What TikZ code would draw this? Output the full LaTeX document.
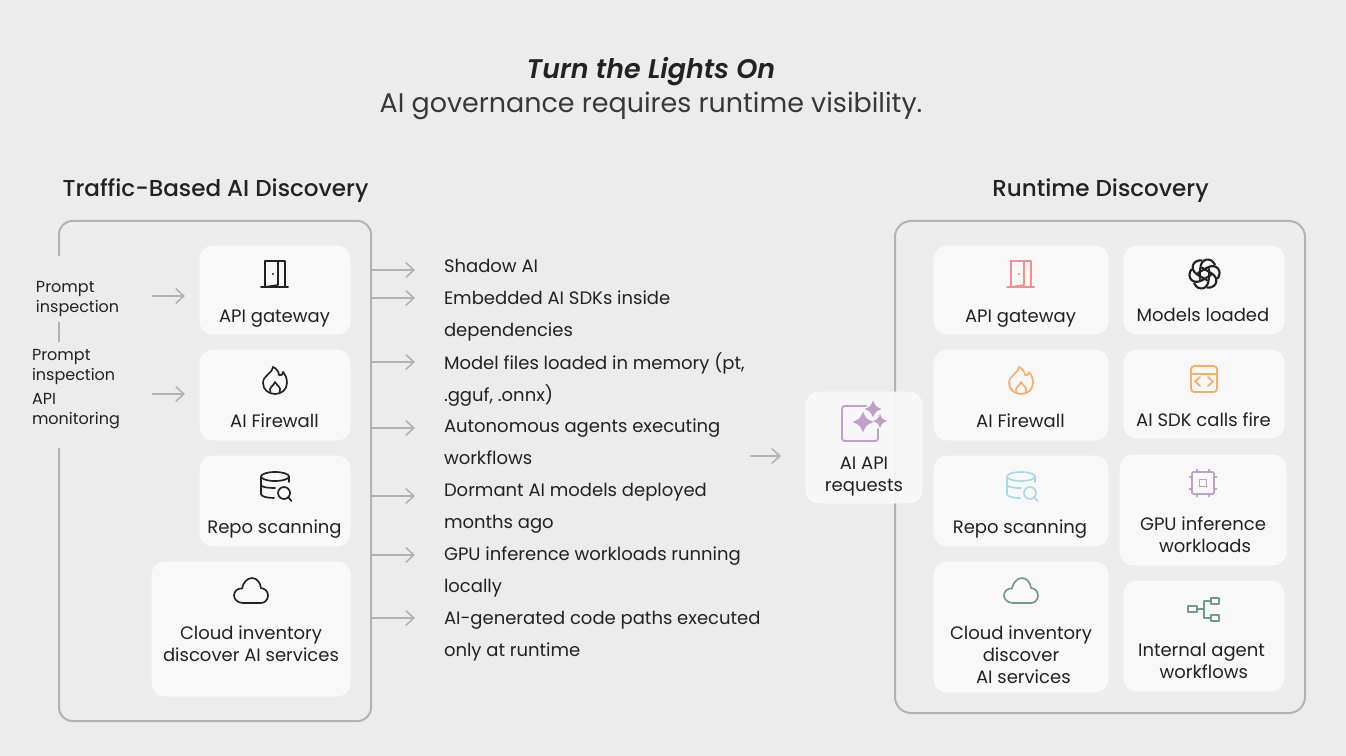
\documentclass[tikz,border=0pt]{standalone}
\usepackage{fontspec}
\setmainfont{Poppins}
\usetikzlibrary{arrows.meta}
\definecolor{bg}{HTML}{ECECEC}
\definecolor{ink}{HTML}{222222}
\definecolor{framec}{HTML}{B2B2B2}
\definecolor{cardc}{HTML}{F8F8F8}
\definecolor{cred}{HTML}{F58F8B}
\definecolor{corange}{HTML}{F6AE6C}
\definecolor{cblue}{HTML}{A5DCE4}
\definecolor{cpurple}{HTML}{C09FCB}
\definecolor{cgreen}{HTML}{6F9A8C}
\newfontface\medium{Poppins Medium}
\newfontface\medmit{Poppins SemiBold Italic}
\tikzset{
 every node/.style={inner sep=0pt,outer sep=0pt,text=ink},
 card/.style={fill=cardc,draw=white!60!cardc,line width=0.4pt,rounded corners=9.5},
 label/.style={font=\fontsize{13.5pt}{16.5pt}\selectfont,align=center,anchor=center},
 listt/.style={font=\fontsize{13.5pt}{16.5pt}\selectfont,anchor=west},
 side/.style={font=\fontsize{12pt}{15pt}\selectfont,anchor=west,align=left},
 head/.style={font=\fontsize{17.3pt}{22pt}\selectfont\medium,anchor=center},
 frame/.style={draw=framec,line width=1.5pt},
 arr/.style={draw=framec,line width=1.2pt,-{Straight Barb[length=6,width=11,line width=1.2pt]}},
 ico/.style={line width=1.25pt,line cap=round,line join=round},
}
% door icon
\newcommand{\icodoor}[3]{\begin{scope}[shift={(#1,#2)},ico,draw=#3]
 \draw[line width=1.5pt] (-14,13)--(13,13);
 \draw (-10,13)--(-10,-13)--(10,-13)--(10,13);
 \draw (3,-13)--(3,11)--(-10,13);
 \fill[#3] (-2,0) circle (1.1);
 \end{scope}}
% flame icon
\newcommand{\icofire}[3]{\begin{scope}[shift={(#1,#2)},ico,draw=#3]
 \draw (-2,-13) .. controls (-2,-7) and (-12,-5) .. (-12,3) .. controls (-12,10) and (-6,14) .. (0,14) .. controls (6,14) and (12,10) .. (12,3) .. controls (12,-2) and (10,-6) .. (8,-8) .. controls (7.5,-5) and (6,-4) .. (4,-5) .. controls (4,-8) and (1,-12) .. (-2,-13) -- cycle;
 \draw (-4.5,12.5) .. controls (-7,7) and (-1,6) .. (0,2) .. controls (2,6) and (7,7) .. (4.5,12.5);
 \end{scope}}
% database + search
\newcommand{\icorepo}[3]{\begin{scope}[shift={(#1,#2)},ico,draw=#3]
 \draw (0,-9.5) ellipse (14 and 4.5);
 \draw (-14,-9.5)--(-14,8) .. controls (-14,10.5) and (-8,12) .. (-1,12);
 \draw (-14,-1) .. controls (-14,1) and (-8,2) .. (0,2);
 \draw (14,-9.5)--(14,-4);
 \draw (9,7) circle (6);
 \draw (13.5,11.5)--(16.5,15);
 \end{scope}}
\newcommand{\icocloud}[3]{\begin{scope}[shift={(#1,#2)},ico,draw=#3]
 \draw (-8,12) .. controls (-13,12) and (-17,8.5) .. (-17,4.5) .. controls (-17,0) and (-13,-3) .. (-9,-2.5) .. controls (-8,-8) and (-4,-13) .. (1,-13) .. controls (6,-13) and (9.5,-8) .. (10,-3) .. controls (14,-2.5) and (17,0.5) .. (17,4.5) .. controls (17,8.5) and (14,12) .. (10,12) -- cycle;
 \end{scope}}
\newcommand{\icoai}[3]{\begin{scope}[shift={(#1,#2)},ico,draw=#3,line width=1.6pt,scale=1.04]
 \foreach \a in {0,60,...,300}{
  \begin{scope}[rotate=\a]
  \draw (-4,-5) .. controls (-4,-15) and (6,-17) .. (10,-9) ;
  \draw (-4,-5) -- (-4,5) ;
  \end{scope}}
 \end{scope}}
\newcommand{\icocode}[3]{\begin{scope}[shift={(#1,#2)},ico,draw=#3,line width=1.4pt]
 \draw[rounded corners=2.5] (-13,-5)--(-13,13)--(13,13)--(13,-5);
 \draw[rounded corners=2.5] (-13,-5)--(-13,-13)--(13,-13)--(13,-5);
 \draw (-13,-5)--(13,-5);
 \draw (-4,-2)--(-9,2.5)--(-4,7);
 \draw (4,-2)--(9,2.5)--(4,7);
 \end{scope}}
\newcommand{\icochip}[3]{\begin{scope}[shift={(#1,#2)},ico,draw=#3,line width=1.4pt]
 \draw[rounded corners=1] (-11,-11) rectangle (11,11);
 \draw (-3.5,-3.5) rectangle (3.5,3.5);
 \foreach \p in {-6,6}{
  \draw (\p,-13.5)--(\p,-11); \draw (\p,11)--(\p,13.5);
  \draw (-13.5,\p)--(-11,\p); \draw (11,\p)--(13.5,\p);}
 \end{scope}}
\newcommand{\icoflow}[3]{\begin{scope}[shift={(#1,#2)},ico,draw=#3,line width=1.4pt]
 \draw (-16,-3) rectangle (-7,3);
 \draw (7,-11) rectangle (15,-5);
 \draw (7,6) rectangle (15,12);
 \draw (-7,0)--(0,0);
 \draw (7,-8)--(0,-8)--(0,9)--(7,9);
 \end{scope}}
\newcommand{\icospark}[3]{\begin{scope}[shift={(#1,#2)},ico,draw=#3,line width=1.4pt]
 \draw[rounded corners=2] (6,-17)--(-18,-17)--(-18,18)--(18,18)--(18,6);
 \foreach \x/\y/\r in {3/-1/10.5,13/-14/8.5,20/-2/7}{
  \fill[#3] (\x-\r,\y) .. controls (\x-\r*0.3,\y-\r*0.3) .. (\x,\y-\r) .. controls (\x+\r*0.3,\y-\r*0.3) .. (\x+\r,\y) .. controls (\x+\r*0.3,\y+\r*0.3) .. (\x,\y+\r) .. controls (\x-\r*0.3,\y+\r*0.3) .. cycle;}
 \end{scope}}
\begin{document}
\begin{tikzpicture}[x=0.75pt,y=-0.75pt]
\useasboundingbox (0,0) rectangle (1346,756);
\fill[bg] (0,0) rectangle (1346,756);
% title
\node[font=\fontsize{20.2pt}{26pt}\selectfont\medmit,anchor=center] (title) at (651,71.5) {Turn the Lights On};
\node[font=\fontsize{20.2pt}{26pt}\selectfont,anchor=center,text=ink!90] (subtitle) at (651,105.5) {AI governance requires runtime visibility.};
\node[head] (h1) at (215.5,190.5) {Traffic-Based AI Discovery};
\node[head] (h2) at (1100.5,190.5) {Runtime Discovery};
% frames
\draw[frame,rounded corners=10] (59,256)--(59,221)--(371,221)--(371,721)--(59,721)--(59,448);
\draw[frame] (59,322)--(59,342);
\draw[frame,rounded corners=12] (895,221) rectangle (1305,713);
% left side labels
\node[side] (s1) at (36,299) {Prompt\\inspection};
\node[side] (s2) at (32,367) {Prompt\\inspection};
\node[side] (s3) at (32,411) {API\\monitoring};
% left cards
\draw[card] (200,246) rectangle (350,334);
\draw[card] (200,350) rectangle (350,440);
\draw[card] (200,456) rectangle (350,546);
\draw[card] (152,562) rectangle (350,696);
\icodoor{275}{274}{ink}
\icofire{275}{380}{ink}
\icorepo{275}{486}{ink}
\icocloud{251}{591}{ink}
\node[label] (a1) at (274.5,318) {\strut API gateway};
\node[label] (a2) at (274.5,423) {\strut AI Firewall};
\node[label] (a3) at (274.5,529) {\strut Repo scanning};
\node[label] (a4) at (251,646) {\strut Cloud inventory\\\strut discover AI services};
% side arrows
\coordinate (sa1) at (152,296); \coordinate (sb1) at (185,296);
\coordinate (sa2) at (152,394); \coordinate (sb2) at (185,394);
\draw[arr] (sa1)--(sb1);
\draw[arr] (sa2)--(sb2);
% list arrows
\foreach \y in {270,298,362,428,496,555,618}{
 \coordinate (la\y) at (372,\y); \coordinate (lb\y) at (415,\y);
 \draw[arr] (la\y)--(lb\y);}
% list
\node[listt] (l1) at (444,268) {\strut Shadow AI};
\node[listt] (l2) at (444,300) {\strut Embedded AI SDKs inside};
\node[listt] (l3) at (444,332) {\strut dependencies};
\node[listt] (l4) at (444,364) {\strut Model files loaded in memory (pt,};
\node[listt] (l5) at (444,396) {\strut .gguf, .onnx)};
\node[listt] (l6) at (444,428) {\strut Autonomous agents executing};
\node[listt] (l7) at (444,460) {\strut workflows};
\node[listt] (l8) at (444,492) {\strut Dormant AI models deployed};
\node[listt] (l9) at (444,524) {\strut months ago};
\node[listt] (l10) at (444,556) {\strut GPU inference workloads running};
\node[listt] (l11) at (444,588) {\strut locally};
\node[listt] (l12) at (444,620) {\strut AI-generated code paths executed};
\node[listt] (l13) at (444,652) {\strut only at runtime};
% centre arrow + card
\coordinate (ca) at (750,456); \coordinate (cb) at (781,456);
\draw[arr] (ca)--(cb);
\draw[card,fill opacity=0.92] (806,392) rectangle (922,503);
\icospark{860}{423}{cpurple}
\node[label] (ai) at (864,476) {\strut AI API\\\strut requests};
% right cards
\draw[card] (934,246) rectangle (1108,334);
\draw[card] (934,350) rectangle (1108,440);
\draw[card] (934,456) rectangle (1108,546);
\draw[card] (934,562) rectangle (1108,692);
\draw[card] (1124,246) rectangle (1284,334);
\draw[card] (1124,350) rectangle (1284,438);
\draw[card] (1120,455) rectangle (1286,565);
\draw[card] (1124,581) rectangle (1284,691);
\icodoor{1021}{274}{cred}
\icofire{1021}{380}{corange}
\icorepo{1021}{486}{cblue}
\icocloud{1021}{591}{cgreen}
\icoai{1204.5}{274}{ink}
\icocode{1204}{379}{corange}
\icochip{1203}{483}{cpurple}
\icoflow{1204}{609}{cgreen}
\node[label] (b1) at (1020.5,318) {\strut API gateway};
\node[label] (b2) at (1020.5,423) {\strut AI Firewall};
\node[label] (b3) at (1020,529) {\strut Repo scanning};
\node[label] (b4) at (1021,657) {\strut Cloud inventory\\\strut discover\\\strut\hspace*{3.5pt}AI services};
\node[label] (b5) at (1203,317.5) {\strut Models loaded};
\node[label] (b6) at (1203.5,422) {\strut AI SDK calls fire};
\node[label] (b7) at (1203,537) {\strut GPU inference\\\strut\hspace*{3pt}workloads};
\node[label] (b8) at (1201.5,663) {\strut Internal agent\\\strut\hspace*{3.5pt}workflows};
\end{tikzpicture}
\end{document}
